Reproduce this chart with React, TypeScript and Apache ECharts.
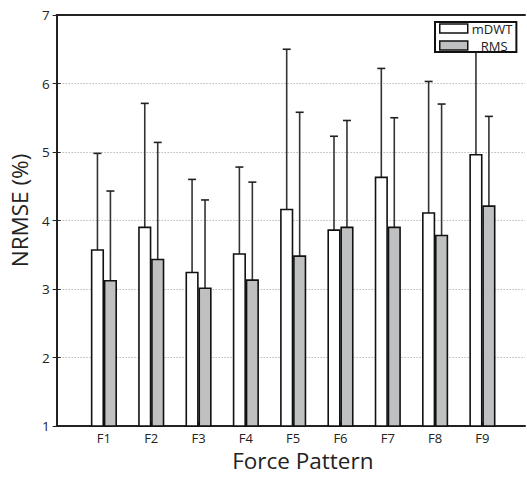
import React, { useEffect, useRef } from "react";
import * as echarts from "echarts";

const categories = ["F1", "F2", "F3", "F4", "F5", "F6", "F7", "F8", "F9"];
const mdwtMean = [3.57, 3.9, 3.24, 3.51, 4.16, 3.86, 4.63, 4.11, 4.96];
const mdwtTop = [4.98, 5.71, 4.6, 4.78, 6.5, 5.23, 6.22, 6.03, 6.6];
const rmsMean = [3.12, 3.43, 3.01, 3.13, 3.48, 3.9, 3.9, 3.78, 4.21];
const rmsTop = [4.43, 5.14, 4.3, 4.56, 5.58, 5.46, 5.5, 5.7, 5.52];
const yTicks = [1, 2, 3, 4, 5, 6, 7];

const FONT = "Open Sans";
const BAR_OFFSET = 0.137;
const BAR_W = 0.245;
const CAP_PX = 4;

function makeRender(offset: number) {
  return (params: any, api: any) => {
    const x = api.value(0) + offset;
    const mean = api.value(1);
    const top = api.value(2);
    const p0 = api.coord([x - BAR_W / 2, yTicks[0]]);
    const p1 = api.coord([x + BAR_W / 2, mean]);
    const pc = api.coord([x, mean]);
    const pt = api.coord([x, top]);
    const style = api.style();
    return {
      type: "group",
      children: [
        {
          type: "line",
          shape: { x1: pc[0], y1: pc[1], x2: pt[0], y2: pt[1] },
          style: { stroke: "#333", lineWidth: 1.6 },
        },
        {
          type: "line",
          shape: { x1: pt[0] - CAP_PX, y1: pt[1], x2: pt[0] + CAP_PX, y2: pt[1] },
          style: { stroke: "#222", lineWidth: 1.6 },
        },
        {
          type: "rect",
          shape: { x: p0[0], y: p1[1], width: p1[0] - p0[0], height: p0[1] - p1[1] },
          style: { fill: style.fill, stroke: "#111", lineWidth: 1.6 },
        },
      ],
    };
  };
}

export default function App() {
  const ref = useRef<HTMLDivElement>(null);
  useEffect(() => {
    document.body.style.margin = "0";
    const chart = echarts.init(ref.current!, undefined, { renderer: "svg" });
    const mdwtData = categories.map((_, i) => [i + 1, mdwtMean[i], mdwtTop[i]]);
    const rmsData = categories.map((_, i) => [i + 1, rmsMean[i], rmsTop[i]]);
    const labelFmt = (v: number) => {
      const i = Math.round(v);
      if (Math.abs(v - i) > 1e-6 || i < 1 || i > categories.length) return "";
      return categories[i - 1];
    };
    chart.setOption({
      animation: false,
      backgroundColor: "#fff",
      textStyle: { fontFamily: FONT },
      grid: { left: 55, right: 2, top: 15, bottom: 48 },
      legend: {
        orient: "vertical",
        left: 435,
        top: 22,
        padding: [0, 4, 0, 4],
        itemGap: 4,
        itemWidth: 28,
        itemHeight: 9,
        icon: "rect",
        backgroundColor: "#fff",
        borderColor: "#111",
        borderWidth: 2,
        textStyle: {
          fontFamily: FONT,
          fontSize: 13,
          lineHeight: 13,
          color: "#222",
          padding: [0, 0, 0, -1],
        },
        data: [
          { name: "mDWT", itemStyle: { color: "#fff", borderColor: "#111", borderWidth: 1.5 } },
          {
            name: "RMS",
            itemStyle: { color: "#bfc0c2", borderColor: "#111", borderWidth: 1.5 },
            textStyle: { padding: [0, 0, 0, 8] },
          },
        ],
      },
      xAxis: [
        {
          type: "value",
          min: 0,
          max: 9.9,
          interval: 1,
          name: "Force Pattern",
          nameLocation: "middle",
          nameGap: 23,
          nameTextStyle: { fontFamily: FONT, fontSize: 22.5, color: "#222", padding: [0, 0, 0, 24] },
          axisLine: { show: true, lineStyle: { color: "#222", width: 2 } },
          axisTick: { show: true, inside: true, length: 4, lineStyle: { color: "#222" } },
          axisLabel: {
            formatter: labelFmt,
            fontFamily: FONT,
            fontSize: 13,
            color: "#222",
            margin: 5,
            showMaxLabel: false,
          },
          splitLine: { show: false },
        },
        {
          type: "value",
          position: "top",
          min: 0,
          max: 9.9,
          interval: 1,
          axisLine: { show: true, lineStyle: { color: "#222", width: 2 } },
          axisTick: { show: false },
          axisLabel: { show: false },
          splitLine: { show: false },
        },
      ],
      yAxis: [
        {
          type: "value",
          min: 1,
          max: 7,
          interval: 1,
          name: "NRMSE (%)",
          nameLocation: "middle",
          nameGap: 19,
          nameTextStyle: { fontFamily: FONT, fontSize: 22.5, color: "#222", padding: [0, 0, 0, 20] },
          axisLine: { show: true, lineStyle: { color: "#222", width: 2 } },
          axisTick: { show: true, inside: true, length: 4, lineStyle: { color: "#222" } },
          axisLabel: { fontFamily: FONT, fontSize: 13.5, color: "#222", margin: 7 },
          splitLine: { show: true, lineStyle: { color: "#999", type: [1, 2], width: 1 } },
        },
        {
          type: "value",
          position: "right",
          min: 1,
          max: 7,
          interval: 1,
          axisLine: { show: true, lineStyle: { color: "#222", width: 2 } },
          axisTick: { show: true, inside: true, length: 4, lineStyle: { color: "#222" } },
          axisLabel: { show: false },
          splitLine: { show: false },
        },
      ],
      series: [
        {
          name: "mDWT",
          type: "custom",
          xAxisIndex: 0,
          yAxisIndex: 0,
          itemStyle: { color: "#fff", borderColor: "#111" },
          renderItem: makeRender(-BAR_OFFSET),
          encode: { x: 0, y: [1, 2] },
          data: mdwtData,
          z: 2,
        },
        {
          name: "RMS",
          type: "custom",
          xAxisIndex: 0,
          yAxisIndex: 0,
          itemStyle: { color: "#bfc0c2", borderColor: "#111" },
          renderItem: makeRender(BAR_OFFSET),
          encode: { x: 0, y: [1, 2] },
          data: rmsData,
          z: 2,
        },
      ],
    });
    return () => chart.dispose();
  }, []);
  return <div ref={ref} style={{ width: 527, height: 477 }} />;
}
